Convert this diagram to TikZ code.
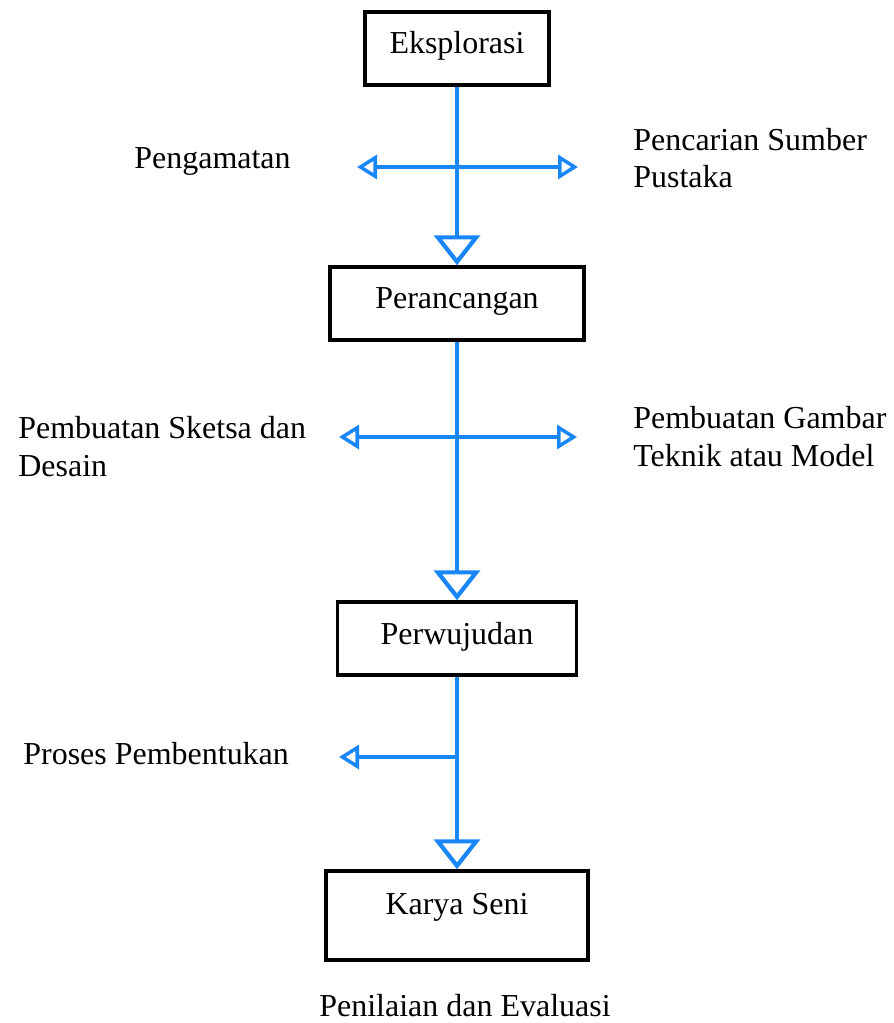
\documentclass[tikz,border=0pt]{standalone}
\usepackage{fontspec}
\setmainfont{Liberation Serif}
\usetikzlibrary{arrows.meta}
\definecolor{flowblue}{RGB}{25,135,250}

\begin{document}
\begin{tikzpicture}[x=0.02cm, y=-0.02cm,
    font=\fontsize{18.2}{21.6}\selectfont,
    box/.style={draw, line width=2pt, inner sep=0pt, text height=0.84cm, text depth=0.62cm, anchor=base},
    mainarrow/.style={flowblue, line width=2.4pt, -{Triangle[open, length=0.6cm, width=0.92cm]}},
    sidearrow/.style={flowblue, line width=2pt, -{Triangle[open, length=0.4cm, width=0.48cm]}},
    txt/.style={inner sep=0pt, anchor=base west, align=left}]
    \useasboundingbox (0,0) rectangle (893,1023);
    % boxes
    \node[box, minimum width=3.68cm] (eks) at (457,54) {Eksplorasi};
    \node[box, minimum width=5.08cm] (ran) at (457,309) {Perancangan};
    \node[box, minimum width=4.78cm] (wuj) at (457,644) {Perwujudan};
    \node[box, minimum width=5.24cm, text height=0.86cm, text depth=0.92cm] (kar) at (457,914) {Karya Seni};
    % main flow
    \draw[mainarrow] (eks) -- (ran);
    \draw[mainarrow] (ran) -- (wuj);
    \draw[mainarrow] (wuj) -- (kar);
    % side branches
    \coordinate (b1) at (457,167);
    \coordinate (b1l) at (357,167);
    \coordinate (b1r) at (578,167);
    \coordinate (b2) at (457,437);
    \coordinate (b2l) at (339,437);
    \coordinate (b2r) at (577,437);
    \coordinate (b3) at (457,757);
    \coordinate (b3l) at (339,757);
    \draw[sidearrow] (b1) -- (b1l);
    \draw[sidearrow] (b1) -- (b1r);
    \draw[sidearrow] (b2) -- (b2l);
    \draw[sidearrow] (b2) -- (b2r);
    \draw[sidearrow] (b3) -- (b3l);
    % labels (base = last line)
    \node[txt] (amat) at (134,169) {Pengamatan};
    \node[txt] (pust) at (633,188) {Pencarian Sumber\\Pustaka};
    \node[txt] (sket) at (18,476) {Pembuatan Sketsa dan\\Desain};
    \node[txt] (gamb) at (633,466) {Pembuatan Gambar\\Teknik atau Model};
    \node[txt] (bent) at (23,764) {Proses Pembentukan};
    \node[inner sep=0pt, anchor=base] (eval) at (465,1016) {Penilaian dan Evaluasi};
\end{tikzpicture}
\end{document}
